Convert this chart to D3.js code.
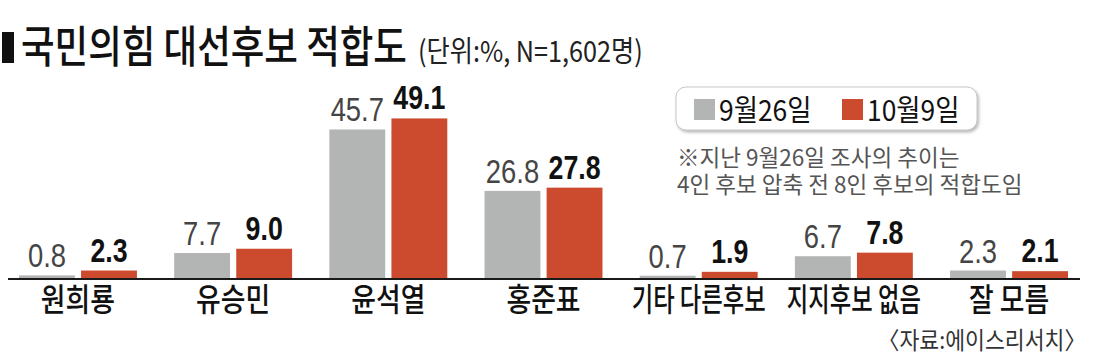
<!DOCTYPE html>
<html><head><meta charset="utf-8">
<script src="https://cdn.jsdelivr.net/npm/d3@7"></script>
<style>
html,body{margin:0;padding:0;background:#fff;}
svg{display:block;}
</style></head>
<body>
<script>
const categories = ["원희룡","유승민","윤석열","홍준표","기타 다른후보","지지후보 없음","잘 모름"];
const seriesNames = ["9월26일","10월9일"];
const valuesSep26 = [0.8, 7.7, 45.7, 26.8, 0.7, 6.7, 2.3];
const valuesOct9 = [2.3, 9.0, 49.1, 27.8, 1.9, 7.8, 2.1];
const titleText = "국민의힘 대선후보 적합도";
const subtitleText = "(단위:%, N=1,602명)";
const noteLines = ["※지난 9월26일 조사의 추이는", "4인 후보 압축 전 8인 후보의 적합도임"];
const sourceText = "〈자료:에이스리서치〉";

const W = 1100, H = 356;
const colors = {"9월26일": "#b3b4b4", "10월9일": "#cc4a2e"};
const KR = "'Noto Sans CJK KR','Noto Sans CJK SC',sans-serif";
const NUM = "'Liberation Sans',Arial,sans-serif";

const svg = d3.select("body").append("svg").attr("width", W).attr("height", H);

const defs = svg.append("defs");
const f = defs.append("filter").attr("id","sh").attr("x","-10%").attr("y","-30%").attr("width","120%").attr("height","170%");
f.append("feDropShadow").attr("dx",1.5).attr("dy",2).attr("stdDeviation",1.5).attr("flood-color","#888").attr("flood-opacity",0.6);

function txt(parent, x, y, s, o) {
  const g = parent.append("g").attr("transform", `translate(${x},${y}) scale(${o.sx||1},1)`);
  const t = g.append("text").text(s)
    .attr("font-family", o.family || KR)
    .attr("font-size", o.size)
    .attr("font-weight", o.weight || 400)
    .attr("fill", o.fill || "#111")
    .attr("text-anchor", o.anchor || "start");
  if (o.maxW) {
    const w = t.node().getComputedTextLength() * (o.sx||1);
    if (w > o.maxW) g.attr("transform", `translate(${x},${y}) scale(${(o.sx||1)*o.maxW/w},1)`);
  }
  return t;
}

// Title
svg.append("rect").attr("x",2).attr("y",32).attr("width",12).attr("height",31).attr("fill","#111");
txt(svg, 21, 63, titleText, {size:44, weight:500, sx:0.83, fill:"#111"});
txt(svg, 418, 62, subtitleText, {size:29, weight:400, sx:0.87, fill:"#222"});

// scales
const baseY = 278;
const y = d3.scaleLinear().domain([0, 50]).range([baseY, baseY - 162.5]);
const x0 = d3.scaleBand().domain(categories).range([19, 1068]).paddingInner(0.24).paddingOuter(0);
const x1 = d3.scaleBand().domain(seriesNames).range([0, x0.bandwidth()]).paddingInner(0.1);

const data = categories.map((c, i) => ({
  cat: c,
  vals: [{s: seriesNames[0], v: valuesSep26[i]}, {s: seriesNames[1], v: valuesOct9[i]}]
}));

const fmt = d3.format(".1f");
const groups = svg.append("g").selectAll("g").data(data).join("g")
  .attr("transform", d => `translate(${x0(d.cat)},0)`);

groups.selectAll("rect").data(d => d.vals).join("rect")
  .attr("x", d => x1(d.s))
  .attr("y", d => y(d.v))
  .attr("width", x1.bandwidth())
  .attr("height", d => baseY - y(d.v))
  .attr("fill", d => colors[d.s]);

groups.each(function(d) {
  const g = d3.select(this);
  d.vals.forEach((e, j) => {
    const cx = x1(e.s) + x1.bandwidth() / 2;
    if (j === 0) {
      txt(g, cx, y(e.v) - 8, fmt(e.v), {family: NUM, size:33, weight:400, sx:0.83, fill:"#454545", anchor:"middle"});
    } else {
      txt(g, cx, y(e.v) - 9, fmt(e.v), {family: NUM, size:33, weight:700, sx:0.81, fill:"#111", anchor:"middle"});
    }
  });
});

// axis line
svg.append("line").attr("x1", 8).attr("x2", 1080).attr("y1", baseY + 1).attr("y2", baseY + 1)
  .attr("stroke", "#1a1a1a").attr("stroke-width", 2);

// category labels
categories.forEach(c => {
  txt(svg, x0(c) + x0.bandwidth() / 2, 311, c, {size:32, weight:500, sx:0.84, fill:"#111", anchor:"middle", maxW:134});
});

// legend
const lg = svg.append("g");
lg.append("rect").attr("x", 676).attr("y", 87).attr("width", 301).attr("height", 43).attr("rx", 10)
  .attr("fill", "#fff").attr("stroke", "#c8c8c8").attr("stroke-width", 1).attr("filter", "url(#sh)");
const legX = [694, 842];
seriesNames.forEach((s, i) => {
  lg.append("rect").attr("x", legX[i]).attr("y", 99).attr("width", 21).attr("height", 21).attr("fill", colors[s]);
  txt(lg, legX[i] + 25, 121, s, {size:29, weight:400, sx:0.91, fill:"#111"});
});

// note (one text block, two lines)
const ng = svg.append("g").attr("transform", "translate(677,166) scale(0.98,1)");
const nt = ng.append("text").attr("font-family", KR).attr("font-size", 23).attr("fill", "#555");
noteLines.forEach((l, i) => {
  nt.append("tspan").attr("x", 0).attr("dy", i === 0 ? 0 : 27).text(l);
});

// source
txt(svg, 1086, 349, sourceText, {size:24, weight:400, sx:0.9, fill:"#333", anchor:"end"});
</script>
</body></html>
